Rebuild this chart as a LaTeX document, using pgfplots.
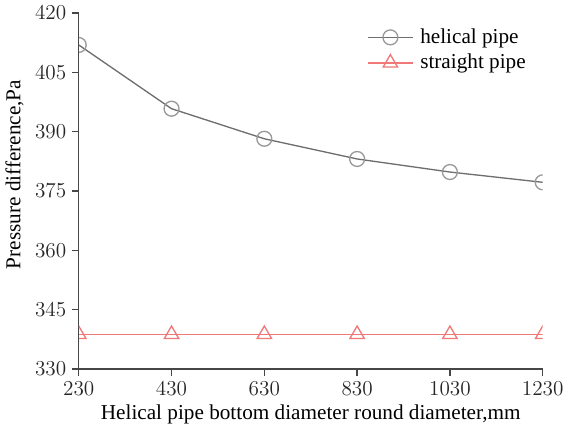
\documentclass[border=0pt]{standalone}
\usepackage{pgfplots}
\pgfplotsset{compat=1.18}
\usepackage{fontspec}
\newfontfamily\timesfont{Liberation Serif}
\definecolor{helgray}{RGB}{110,110,110}
\definecolor{strred}{RGB}{240,120,120}
\definecolor{axgray}{RGB}{70,70,70}
\begin{document}
\begin{tikzpicture}
\begin{axis}[
    scale only axis,
    width=280pt, height=215pt,
    xmin=230, xmax=1230,
    ymin=330, ymax=420,
    xtick={230,430,630,830,1030,1230},
    ytick={330,345,360,375,390,405,420},
    /pgf/number format/.cd, 1000 sep={}, assume math mode=true, /pgfplots/.cd,
    axis x line*=bottom,
    axis y line*=left,
    axis line style={axgray, line width=0.8pt},
    tick style={axgray, line width=0.8pt},
    tick align=outside,
    major tick length=4pt,
    tick label style={font=\fontsize{12.8}{15}\selectfont, color=black!85},
    xlabel={Helical pipe bottom diameter round diameter,mm},
    ylabel={Pressure difference,Pa},
    label style={font=\timesfont\fontsize{12.8}{14}\selectfont},
    xlabel style={yshift=2pt},
    ylabel style={yshift=0pt, xshift=10pt},
    clip marker paths=true,
    legend style={draw=none, fill=none, at={(0.61,0.975)}, anchor=north west,
        font=\timesfont\fontsize{12.8}{14}\selectfont, row sep=1pt,
        nodes={inner xsep=4pt}},
    legend cell align=left,
    legend image code/.code={
        \draw[mark repeat=2, mark phase=2] plot coordinates {(0cm,0cm) (0.48cm,0cm) (0.96cm,0cm)};
    },
]
\addplot[helgray, line width=0.8pt, mark=o, mark size=4.5pt,
    mark options={fill=white, draw=helgray!70}] coordinates {
    (230,411.9) (430,395.8) (630,388.2) (830,383.1) (1030,379.8) (1230,377.2)
};
\addlegendentry{helical pipe}
\addplot[strred, line width=0.8pt, mark=triangle, mark size=5pt,
    mark options={fill=white, draw=strred}] coordinates {
    (230,338.8) (430,338.8) (630,338.8) (830,338.8) (1030,338.8) (1230,338.8)
};
\addlegendentry{straight pipe}
\end{axis}
\end{tikzpicture}
\end{document}
